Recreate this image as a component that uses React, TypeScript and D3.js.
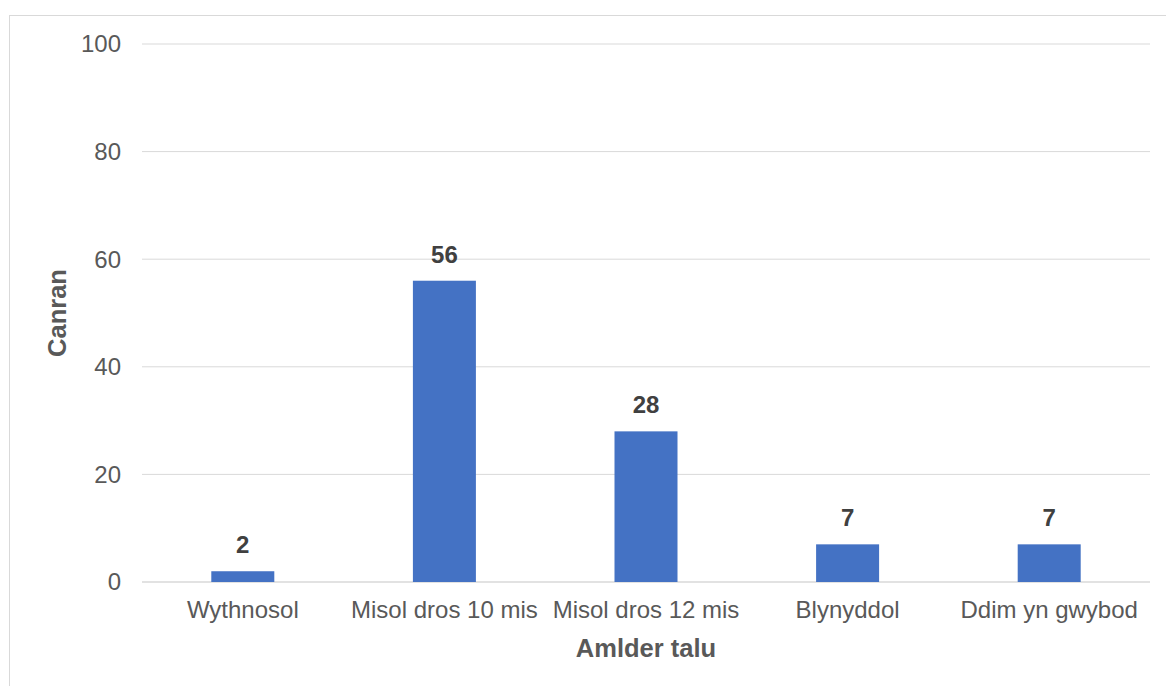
import React from "react";
import * as d3 from "d3";

const categories = ["Wythnosol", "Misol dros 10 mis", "Misol dros 12 mis", "Blynyddol", "Ddim yn gwybod"];
const values = [2, 56, 28, 7, 7];
const yTicks = [0, 20, 40, 60, 80, 100];
const xTitle = "Amlder talu";
const yTitle = "Canran";

export default function App() {
  const W = 1166, H = 686;
  const left = 142, right = 1150, top = 44, bottom = 582;
  const x = d3.scaleBand<string>().domain(categories).range([left, right]).paddingInner(0.6875).paddingOuter(0.34375);
  const y = d3.scaleLinear().domain([0, 100]).range([bottom, top]);
  const font = "Liberation Sans, Arial, sans-serif";
  return (
    <svg width={W} height={H} style={{ position: "absolute", left: 0, top: 0 }} fontFamily={font}>
      <rect x={0} y={0} width={W} height={H} fill="#fff" />
      <rect x={9.5} y={15.5} width={1170} height={700} fill="none" stroke="#d9d9d9" strokeWidth={1} />
      {yTicks.map((t) => (
        <g key={t}>
          <line x1={left} x2={right} y1={y(t)} y2={y(t)} stroke="#d9d9d9" strokeWidth={t === 0 ? 1.5 : 1} />
          <text x={121} y={y(t)} dy="0.35em" textAnchor="end" fontSize={24} fill="#595959">{t}</text>
        </g>
      ))}
      {categories.map((c, i) => (
        <g key={c}>
          <rect x={x(c)} y={y(values[i])} width={x.bandwidth()} height={bottom - y(values[i])} fill="#4472C4" />
          <text x={(x(c) as number) + x.bandwidth() / 2} y={y(values[i]) - 18} textAnchor="middle" fontSize={24} fontWeight="bold" fill="#404040">{values[i]}</text>
          <text x={(x(c) as number) + x.bandwidth() / 2} y={618} textAnchor="middle" fontSize={24} fill="#595959">{c}</text>
        </g>
      ))}
      <text x={(left + right) / 2} y={657} textAnchor="middle" fontSize={25.5} fontWeight="bold" fill="#595959">{xTitle}</text>
      <text transform={`translate(66, ${(top + bottom) / 2}) rotate(-90)`} textAnchor="middle" fontSize={25.5} fontWeight="bold" fill="#595959">{yTitle}</text>
    </svg>
  );
}
